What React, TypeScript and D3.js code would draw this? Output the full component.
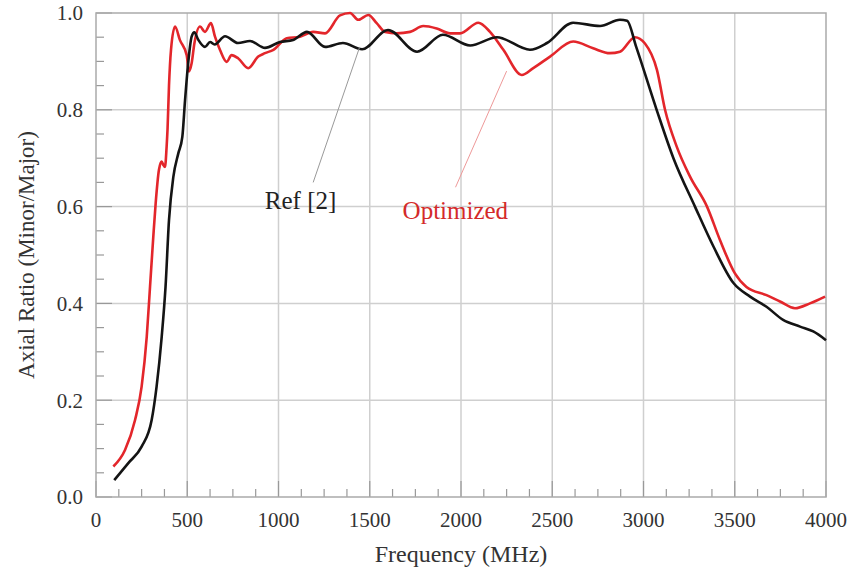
import { useEffect, useRef } from 'react';
import * as d3 from 'd3';

// Ref [2] curve (black)
const refFreq = [100, 177, 250, 305, 332, 360, 381, 400, 424, 451, 473, 488, 506, 524, 539, 560, 597, 625, 650, 707, 778, 844, 926, 1008, 1080, 1156, 1255, 1353, 1458, 1600, 1759, 1901, 2050, 2197, 2378, 2471, 2614, 2762, 2871, 2910, 2960, 3072, 3164, 3282, 3384, 3493, 3584, 3674, 3765, 3858, 3930, 4000];
const refAR = [0.035, 0.07, 0.104, 0.159, 0.228, 0.331, 0.434, 0.572, 0.662, 0.71, 0.744, 0.82, 0.9, 0.951, 0.96, 0.945, 0.93, 0.94, 0.935, 0.952, 0.938, 0.942, 0.928, 0.94, 0.944, 0.961, 0.93, 0.938, 0.925, 0.965, 0.92, 0.955, 0.933, 0.95, 0.924, 0.938, 0.98, 0.973, 0.986, 0.984, 0.93, 0.8, 0.7, 0.6, 0.517, 0.442, 0.414, 0.393, 0.366, 0.352, 0.342, 0.324];

// Optimized curve (red)
const optFreq = [95, 159, 214, 250, 278, 296, 314, 327, 345, 360, 369, 378, 387, 392, 400, 411, 433, 460, 497, 509, 524, 539, 570, 597, 630, 652, 679, 716, 743, 780, 834, 889, 926, 972, 1045, 1118, 1190, 1255, 1337, 1392, 1437, 1492, 1538, 1584, 1648, 1721, 1793, 1867, 1940, 1995, 2095, 2159, 2232, 2333, 2396, 2488, 2615, 2724, 2816, 2871, 2953, 3008, 3074, 3118, 3182, 3255, 3348, 3419, 3501, 3564, 3674, 3748, 3830, 3912, 3995];
const optAR = [0.063, 0.097, 0.159, 0.228, 0.331, 0.434, 0.538, 0.607, 0.676, 0.693, 0.686, 0.682, 0.724, 0.76, 0.85, 0.924, 0.972, 0.944, 0.913, 0.879, 0.896, 0.937, 0.972, 0.961, 0.979, 0.951, 0.924, 0.899, 0.913, 0.906, 0.886, 0.91, 0.917, 0.924, 0.948, 0.951, 0.961, 0.958, 0.995, 1.0, 0.986, 0.996, 0.979, 0.961, 0.958, 0.961, 0.973, 0.968, 0.958, 0.958, 0.98, 0.961, 0.924, 0.872, 0.886, 0.91, 0.941, 0.927, 0.917, 0.92, 0.95, 0.937, 0.882, 0.8, 0.724, 0.662, 0.6, 0.531, 0.462, 0.434, 0.417, 0.404, 0.39, 0.4, 0.414];

const xTicks = [0, 500, 1000, 1500, 2000, 2500, 3000, 3500, 4000];
const yTicks = [0, 0.2, 0.4, 0.6, 0.8, 1.0];

function AxialRatioChart() {
  const svgRef = useRef<SVGSVGElement>(null);

  useEffect(() => {
    const width = 848;
    const height = 573;
    const margin = { top: 13, right: 22, bottom: 76, left: 96 };
    const w = width - margin.left - margin.right;
    const h = height - margin.top - margin.bottom;
    const font = '"Liberation Serif", "Times New Roman", serif';

    const root = d3.select(svgRef.current);
    root.selectAll('*').remove();
    root.attr('width', width).attr('height', height);

    const svg = root.append('g')
      .attr('transform', `translate(${margin.left},${margin.top})`);

    const x = d3.scaleLinear().domain([0, 4000]).range([0, w]);
    const y = d3.scaleLinear().domain([0, 1]).range([h, 0]);

    // grid lines at the major ticks
    svg.append('g').selectAll('line').data(xTicks.slice(1, -1)).join('line')
      .attr('x1', d => x(d)).attr('x2', d => x(d))
      .attr('y1', 0).attr('y2', h)
      .attr('stroke', '#cfcfcf').attr('stroke-width', 1.5);
    svg.append('g').selectAll('line').data(yTicks.slice(1, -1)).join('line')
      .attr('x1', 0).attr('x2', w)
      .attr('y1', d => y(d)).attr('y2', d => y(d))
      .attr('stroke', '#cfcfcf').attr('stroke-width', 1.5);

    // minor + major ticks, pointing inward
    const xMinor = d3.range(0, 4001, 125);
    svg.append('g').selectAll('line').data(xMinor).join('line')
      .attr('x1', d => x(d)).attr('x2', d => x(d))
      .attr('y1', h).attr('y2', d => h - (d % 500 === 0 ? 16 : 8))
      .attr('stroke', '#999').attr('stroke-width', 1.2);
    const yMinor = d3.range(0, 21).map(i => i * 0.05);
    svg.append('g').selectAll('line').data(yMinor).join('line')
      .attr('y1', d => y(d)).attr('y2', d => y(d))
      .attr('x1', 0).attr('x2', (d, i) => (i % 4 === 0 ? 16 : 8))
      .attr('stroke', '#999').attr('stroke-width', 1.2);

    // frame
    svg.append('rect')
      .attr('width', w).attr('height', h)
      .attr('fill', 'none').attr('stroke', '#aaa').attr('stroke-width', 1.5);

    // tick labels
    svg.append('g').selectAll('text').data(xTicks).join('text')
      .attr('x', d => x(d)).attr('y', h + 30)
      .attr('text-anchor', 'middle')
      .attr('font-family', font).attr('font-size', 21).attr('fill', '#333')
      .text(d => d);
    svg.append('g').selectAll('text').data(yTicks).join('text')
      .attr('x', -13).attr('y', d => y(d)).attr('dy', '0.35em')
      .attr('text-anchor', 'end')
      .attr('font-family', font).attr('font-size', 21).attr('fill', '#333')
      .text(d => d.toFixed(1));

    // axis titles
    svg.append('text')
      .attr('x', w / 2).attr('y', h + 65)
      .attr('text-anchor', 'middle')
      .attr('font-family', font).attr('font-size', 24).attr('fill', '#333')
      .text('Frequency (MHz)');
    svg.append('text')
      .attr('transform', `translate(${-62},${h / 2}) rotate(-90)`)
      .attr('text-anchor', 'middle')
      .attr('font-family', font).attr('font-size', 23).attr('fill', '#333')
      .text('Axial Ratio (Minor/Major)');

    const line = d3.line().curve(d3.curveMonotoneX);
    const refPts = refFreq.map((f, i) => [x(f), y(refAR[i])] as [number, number]);
    const optPts = optFreq.map((f, i) => [x(f), y(optAR[i])] as [number, number]);

    svg.append('path')
      .attr('d', line(optPts))
      .attr('fill', 'none').attr('stroke', '#e3262b').attr('stroke-width', 2.6);
    svg.append('path')
      .attr('d', line(refPts))
      .attr('fill', 'none').attr('stroke', '#141414').attr('stroke-width', 2.6);

    // annotations with leader lines
    svg.append('line')
      .attr('x1', x(1190)).attr('y1', y(0.65))
      .attr('x2', x(1445)).attr('y2', y(0.93))
      .attr('stroke', '#999').attr('stroke-width', 1);
    svg.append('text')
      .attr('x', x(925)).attr('y', y(0.595))
      .attr('font-family', font).attr('font-size', 25).attr('fill', '#222')
      .text('Ref [2]');

    svg.append('line')
      .attr('x1', x(1970)).attr('y1', y(0.64))
      .attr('x2', x(2250)).attr('y2', y(0.88))
      .attr('stroke', '#e99').attr('stroke-width', 1);
    svg.append('text')
      .attr('x', x(1680)).attr('y', y(0.575))
      .attr('font-family', font).attr('font-size', 25).attr('fill', '#d42a2a')
      .text('Optimized');
  }, []);

  return <svg ref={svgRef} style={{ position: 'absolute', left: 0, top: 0, background: '#fff' }} />;
}

export default function App() {
  return (
    <div>
      <AxialRatioChart />
    </div>
  );
}
